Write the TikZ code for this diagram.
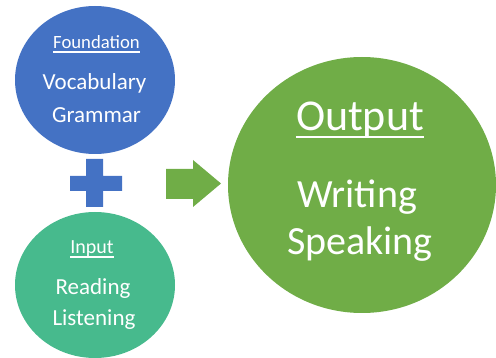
\documentclass[tikz,border=0pt]{standalone}
\usepackage{fontspec}
\setmainfont{Carlito}
\definecolor{cblue}{HTML}{4472C4}
\definecolor{cteal}{HTML}{47BA8D}
\definecolor{cgreen}{HTML}{70AD47}
\tikzset{
  txt/.style={inner sep=0pt, anchor=base, text=white},
  ul/.style={draw=white, line width=#1},
}
\begin{document}
\begin{tikzpicture}[x=1pt,y=-1pt]
\useasboundingbox (0,0) rectangle (496,358);
% circles
\fill[cblue] (95,80) ellipse [x radius=80, y radius=74];
\fill[cteal] (95,285) ellipse [x radius=80, y radius=73];
\fill[cgreen] (362,185) ellipse [x radius=134, y radius=128];
% plus
\fill[cblue] (86,159) -- (103,159) -- (103,176) -- (122,176) -- (122,191) -- (103,191)
  -- (103,207) -- (86,207) -- (86,191) -- (70,191) -- (70,176) -- (86,176) -- cycle;
% arrow
\fill[cgreen] (166,169) -- (193,169) -- (193,160) -- (221,183.5) -- (193,207) -- (193,199) -- (166,199) -- cycle;
% texts
\node[txt, font=\fontsize{18.7}{22}\selectfont] (fnd) at (96.5,49) {Foundation};
\draw[ul=1.2pt] ([yshift=-3pt]fnd.base west) -- ([yshift=-3pt]fnd.base east);
\node[txt, font=\fontsize{23}{27}\selectfont] (voc) at (94.5,90) {Vocabulary};
\node[txt, font=\fontsize{23}{27}\selectfont] (gra) at (96.5,123) {Grammar};
\node[txt, font=\fontsize{20}{24}\selectfont] (inp) at (92,254) {Input};
\draw[ul=1.2pt] ([yshift=-3pt]inp.base west) -- ([yshift=-3pt]inp.base east);
\node[txt, font=\fontsize{23}{27}\selectfont] (rea) at (93,295) {Reading};
\node[txt, font=\fontsize{23}{27}\selectfont] (lis) at (94,326) {Listening};
\node[txt, font=\fontsize{44}{50}\selectfont] (out) at (360,131) {Output};
\draw[ul=2pt] ([yshift=-6pt]out.base west) -- ([yshift=-6pt]out.base east);
\node[txt, font=\fontsize{40}{46}\selectfont] (wri) at (357,208) {Writing};
\node[txt, font=\fontsize{40}{46}\selectfont] (spe) at (360,255) {Speaking};
\end{tikzpicture}
\end{document}
